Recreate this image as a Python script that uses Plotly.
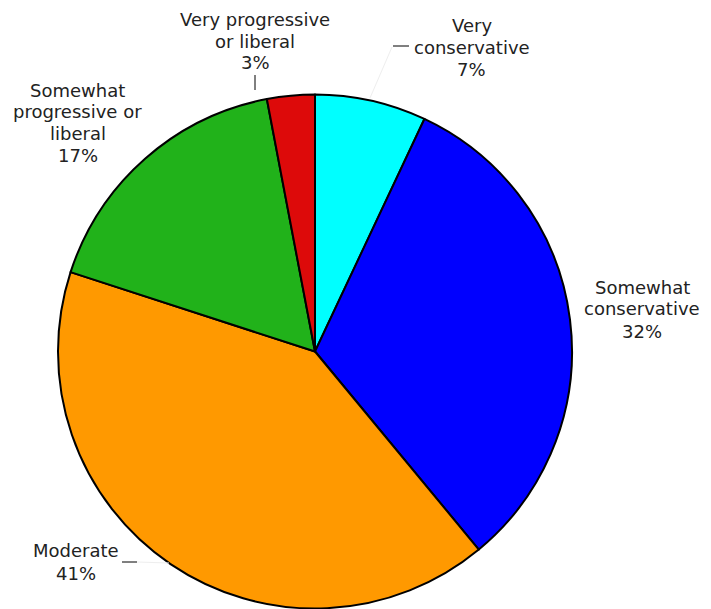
import plotly.graph_objects as go

# Data
categories = ["Very conservative", "Somewhat conservative", "Moderate",
              "Somewhat progressive or liberal", "Very progressive or liberal"]
label_lines = [["Very", "conservative"], ["Somewhat", "conservative"], ["Moderate"],
               ["Somewhat", "progressive or", "liberal"], ["Very progressive", "or liberal"]]
values = [7, 32, 41, 17, 3]
colors = ["#00FFFF", "#0000FF", "#FF9900", "#21B21A", "#DD0A0A"]

# label placement (screen pixels): x centre, y of first line centre, line pitch
label_pos = [(471.5, 25.5, 22), (642, 287, 22), (75.5, 550, 23.5),
             (77.5, 90, 21.8), (255, 20, 21)]

W, H = 711, 609
OFF = 8  # page body margin offset in the browser


def px2paper(x, y):
    return (x - OFF) / W, 1 - (y - OFF) / H


# pie: centre (315, 351.5) on screen, radius 257
cx, cy, r = 315, 351.5, 257
x0p, y1p = px2paper(cx - r, cy - r)
x1p, y0p = px2paper(cx + r, cy + r)

fig = go.Figure(go.Pie(
    labels=categories, values=values, sort=False, direction="clockwise", rotation=0,
    marker=dict(colors=colors, line=dict(color="black", width=2)),
    textinfo="none", showlegend=False, hoverinfo="label+percent",
    domain=dict(x=[x0p, x1p], y=[max(0, y0p), min(1, y1p)]),
))

annotations = []
for lines, v, (px, py, pitch) in zip(label_lines, values, label_pos):
    for i, line in enumerate(lines + [f"{v}%"]):
        ax, ay = px2paper(px, py + i * pitch)
        annotations.append(dict(
            text=line, x=ax, y=ay, xref="paper", yref="paper",
            xanchor="center", yanchor="middle", align="center", showarrow=False,
            borderpad=0,
            font=dict(family="DejaVu Sans", size=18, color="#222222"),
        ))


def seg(xa, ya, xb, yb, color="black", width=1):
    pa = px2paper(xa, ya)
    pb = px2paper(xb, yb)
    return dict(type="line", xref="paper", yref="paper",
                x0=pa[0], y0=pa[1], x1=pb[0], y1=pb[1],
                line=dict(color=color, width=width))


shapes = [
    # faint leader lines
    seg(392, 47, 370, 98, color="#EEEEEE"),
    seg(137, 562, 169, 563, color="#EEEEEE"),
    # dark leader ticks
    seg(393, 46, 409, 46),
    seg(255, 75, 255, 90),
    seg(122, 562, 137, 562),
]

fig.update_layout(
    width=W, height=H,
    margin=dict(l=0, r=0, t=0, b=0),
    paper_bgcolor="white", plot_bgcolor="white",
    annotations=annotations, shapes=shapes,
)
fig.write_html("out.html")
